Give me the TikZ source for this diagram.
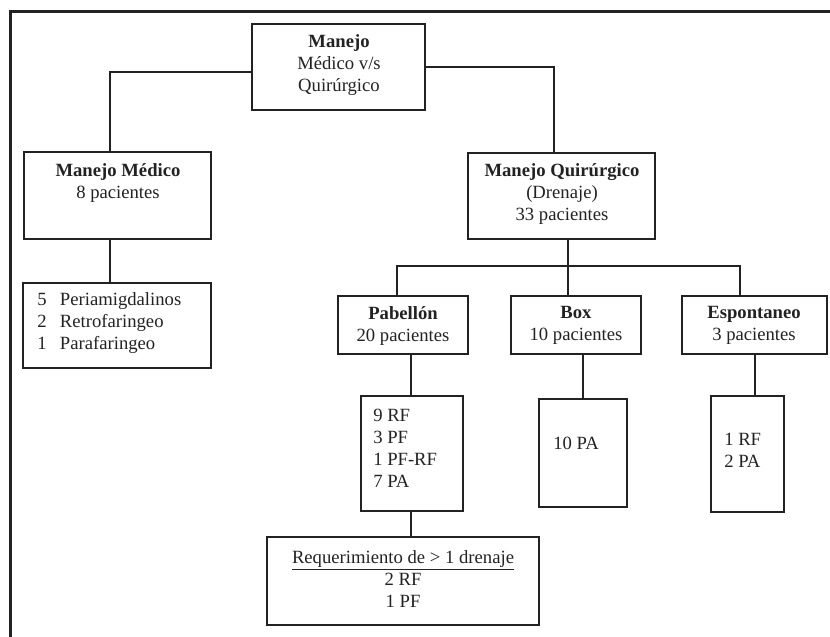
\documentclass[tikz,border=0pt]{standalone}
\usepackage{fontspec}
\setmainfont{Liberation Serif}
\usetikzlibrary{calc}
\definecolor{ink}{HTML}{222222}
\tikzset{
  boxn/.style 2 args={draw=ink, line width=1.9pt, rectangle, minimum width=#1*0.75pt, minimum height=#2*0.75pt, inner sep=0pt},
  txt/.style={inner sep=0pt, font=\fontsize{14pt}{16.5pt}\selectfont, text=ink, align=center},
  conn/.style={draw=ink, line width=1.5pt},
  frame/.style={draw=ink, line width=2.25pt}
}
\begin{document}
\begin{tikzpicture}[x=0.75pt,y=-0.75pt]
\useasboundingbox (0,0) rectangle (830,636);
% outer frame
\coordinate (fa) at (832,11);
\coordinate (fb) at (10,11);
\coordinate (fc) at (10,638);
\draw[frame] (fa) -- (fb) -- (fc);

% boxes
\node[boxn={173}{86}] (top) at (338.5,67) {};
\node[txt] (topt) at (339,65) {\textbf{Manejo}\\Médico v/s\\Quirúrgico};

\node[boxn={187}{87}] (med) at (117.5,195.5) {};
\node[txt] (medt) at (118,183) {\textbf{Manejo Médico}\\8 pacientes};

\node[boxn={188}{85}] (medl) at (117,325.5) {};
\node[txt,align=left,anchor=west] (medlt) at (37,322.7) {5\hspace{10pt}Periamigdalinos\\2\hspace{10pt}Retrofaringeo\\1\hspace{10pt}Parafaringeo};

\node[boxn={187}{86}] (qui) at (561.5,196) {};
\node[txt] (quit) at (562,194) {\textbf{Manejo Quirúrgico}\\(Drenaje)\\33 pacientes};

\node[boxn={130}{58}] (pab) at (403,325) {};
\node[txt] (pabt) at (403,325.5) {\textbf{Pabellón}\\20 pacientes};

\node[boxn={130}{58}] (bx) at (576,325) {};
\node[txt] (bxt) at (576,325.5) {\textbf{Box}\\10 pacientes};

\node[boxn={145}{58}] (esp) at (754.5,325) {};
\node[txt] (espt) at (754,325.5) {\textbf{Espontaneo}\\3 pacientes};

\node[boxn={102}{115}] (pabl) at (412,453.5) {};
\node[txt,align=left,anchor=west] (pablt) at (373,448.5) {9 RF\\3 PF\\1 PF-RF\\7 PA};

\node[boxn={88}{108}] (bxl) at (583,453) {};
\node[txt,anchor=west] (bxlt) at (553,443) {10 PA};

\node[boxn={73}{116}] (espl) at (747.5,454) {};
\node[txt,align=left,anchor=west] (esplt) at (724,450) {1 RF\\2 PA};

\node[boxn={272}{88}] (req) at (403,581) {};
\node[txt] (reqt) at (403,579) {\underline{Requerimiento de > 1 drenaje}\\2 RF\\1 PF};

% connectors
\draw[conn] ($(top.west)+(0,5)$) -| ($(med.north)+(-7.5,0)$);
\draw[conn] (top.east) -| ($(qui.north)+(-7.5,0)$);
\draw[conn] ($(med.south)+(-7.5,0)$) -- ($(medl.north)+(-7,0)$);
\draw[conn] ($(qui.south)+(6.5,0)$) -- ($(bx.north)+(-8,0)$);
\draw[conn] ($(pab.north)+(-6,0)$) |- ($(esp.north)+(-14.5,-29)$) -- ($(esp.north)+(-14.5,0)$);
\draw[conn] ($(pab.south)+(8,0)$) -- ($(pabl.north)+(-1,0)$);
\draw[conn] ($(bx.south)+(7,0)$) -- (bxl.north);
\draw[conn] (esp.south) -- ($(espl.north)+(7,0)$);
\draw[conn] ($(pabl.south)+(-1,0)$) -- ($(req.north)+(8,0)$);
\end{tikzpicture}
\end{document}
